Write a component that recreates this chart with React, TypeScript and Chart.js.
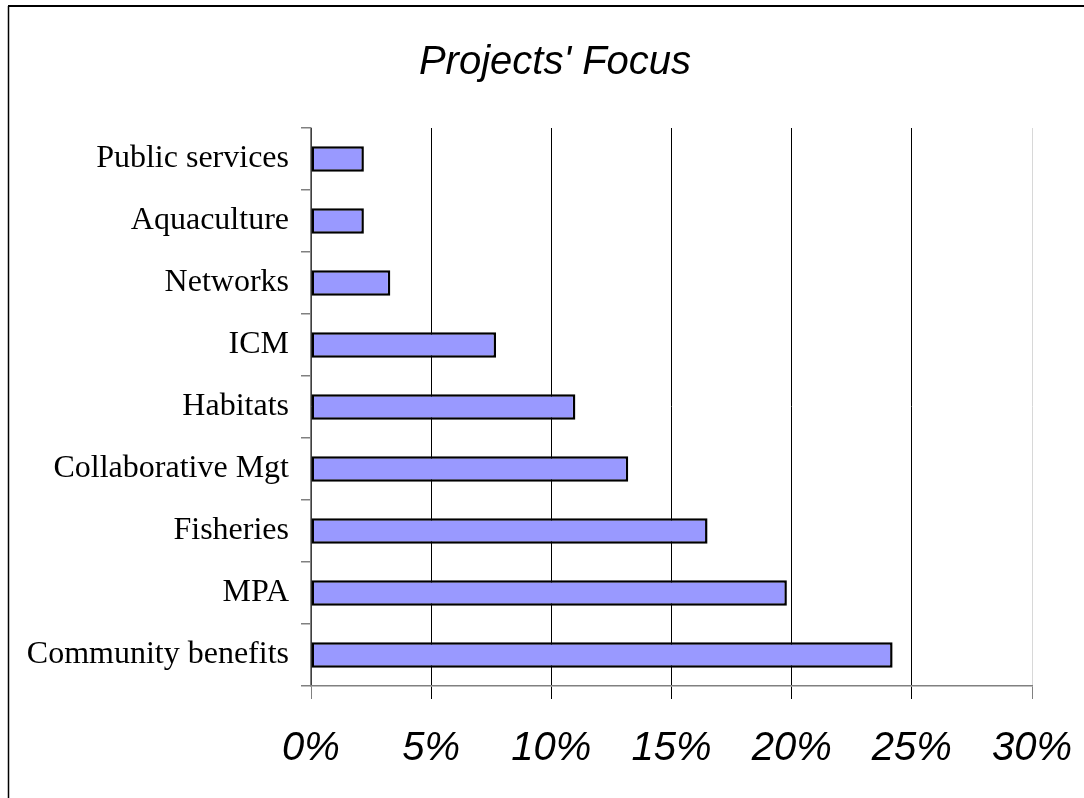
import React, { useEffect, useRef } from "react";
import { Chart, registerables } from "chart.js";

Chart.register(...registerables);

const categories = [
  "Public services",
  "Aquaculture",
  "Networks",
  "ICM",
  "Habitats",
  "Collaborative Mgt",
  "Fisheries",
  "MPA",
  "Community benefits",
];
const values = [2.2, 2.2, 3.3, 7.7, 11.0, 13.2, 16.5, 19.8, 24.2];
const xMin = 0;
const xMax = 30;
const xStep = 5;
const titleText = "Projects' Focus";

const framePlugin = {
  id: "frame",
  beforeDraw(chart: any) {
    const ctx = chart.ctx;
    ctx.save();
    ctx.strokeStyle = "#000";
    ctx.lineWidth = 2;
    ctx.beginPath();
    ctx.moveTo(8, 6);
    ctx.lineTo(chart.width, 6);
    ctx.stroke();
    ctx.lineWidth = 1.5;
    ctx.beginPath();
    ctx.moveTo(8.5, 6);
    ctx.lineTo(8.5, chart.height);
    ctx.stroke();
    // title
    ctx.fillStyle = "#000";
    ctx.font = "italic 40px 'Liberation Sans', Arial, sans-serif";
    ctx.textAlign = "center";
    ctx.textBaseline = "middle";
    ctx.fillText(titleText, 555, 63);
    ctx.restore();
  },
};

export default function App() {
  const ref = useRef<HTMLCanvasElement>(null);
  useEffect(() => {
    if (!ref.current) return;
    const chart = new Chart(ref.current, {
      type: "bar",
      data: {
        labels: categories,
        datasets: [
          {
            data: values,
            backgroundColor: "#9999FF",
            borderColor: "#000000",
            borderWidth: 2.5,
            borderSkipped: false,
            barPercentage: 0.41,
            categoryPercentage: 1,
          },
        ],
      },
      options: {
        indexAxis: "y",
        responsive: false,
        animation: false,
        layout: { padding: { left: 0, right: 52, top: 128, bottom: 0 } },
        plugins: {
          legend: { display: false },
          tooltip: { enabled: false },
          title: { display: false },
        },
        scales: {
          x: {
            min: xMin,
            max: xMax,
            ticks: {
              stepSize: xStep,
              color: "#000",
              padding: 26,
              maxRotation: 0,
              font: { family: "'Liberation Sans', Arial, sans-serif", style: "italic", size: 40 },
              callback: (v: any) => v + "%",
            },
            grid: {
              color: (c: any) => (c.index === 6 ? "#d8d8d8" : "#000"),
              tickColor: (c: any) => (c.index === 0 || c.index === 6 ? "#808080" : "#000"),
              lineWidth: 1,
              tickLength: 13,
            },
            border: { color: "#808080", width: 1.5 },
            afterFit: (s: any) => {
              s.height = 112;
              s.paddingLeft = 0;
              s.paddingRight = 0;
            },
          },
          y: {
            ticks: {
              color: "#000",
              padding: 12,
              font: { family: "'Liberation Serif', 'Times New Roman', serif", size: 32 },
            },
            grid: {
              drawOnChartArea: false,
              color: "#808080",
              tickLength: 10,
              offset: true,
              lineWidth: 1.5,
            },
            border: { color: "#808080", width: 1.5 },
            afterFit: (s: any) => {
              s.width = 311;
              s.paddingTop = 0;
              s.paddingBottom = 0;
            },
          },
        },
      },
      plugins: [framePlugin],
    });
    return () => chart.destroy();
  }, []);
  return (
    <div style={{ position: "absolute", left: 0, top: 0, width: 1084, height: 798, background: "#fff" }}>
      <canvas ref={ref} width={1084} height={798} style={{ display: "block" }} />
    </div>
  );
}
